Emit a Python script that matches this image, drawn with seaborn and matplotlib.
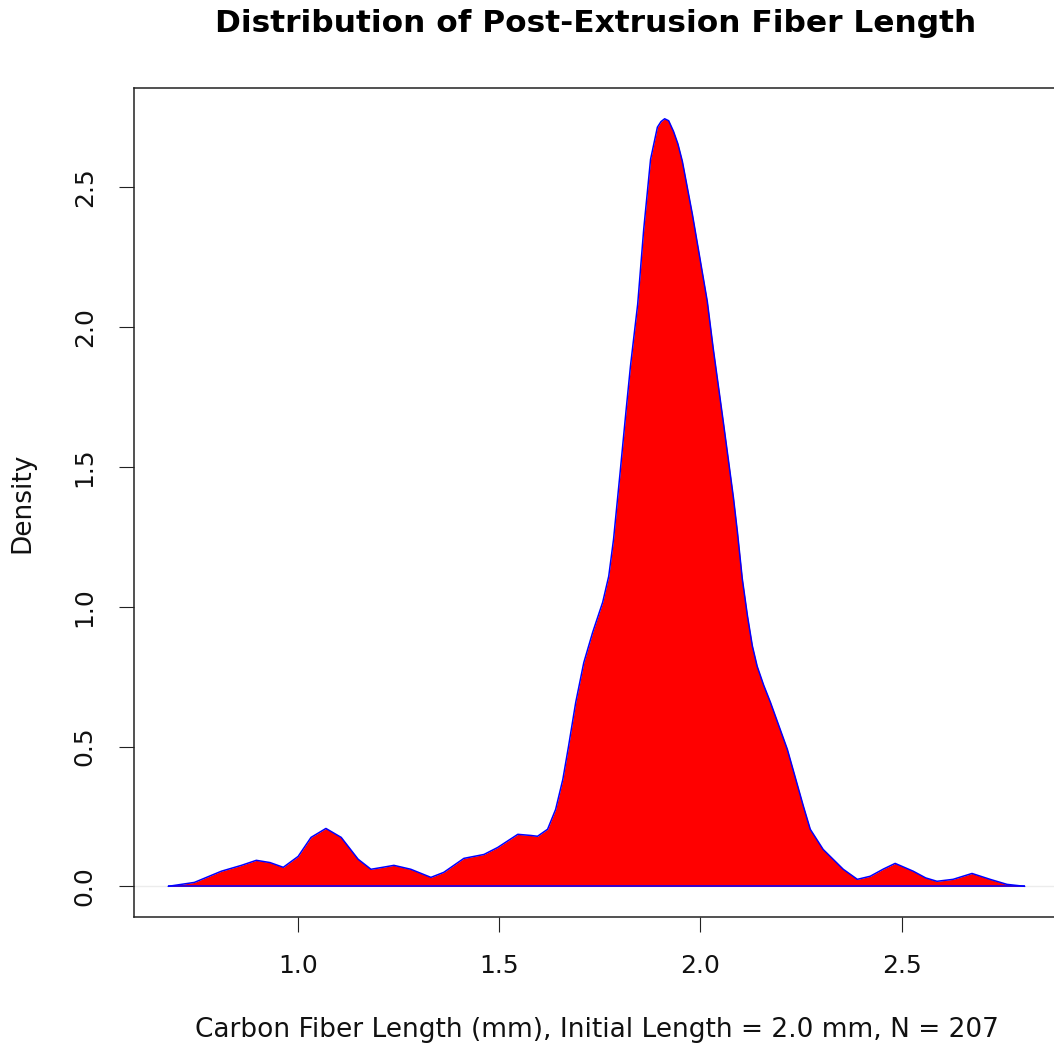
import numpy as np
import matplotlib
matplotlib.use("Agg")
import matplotlib.pyplot as plt
import seaborn as sns

# density curve (fiber length in mm, density)
length_mm = np.array([
    0.677, 0.742, 0.809, 0.859, 0.896, 0.930, 0.963, 1.000, 1.032, 1.069,
    1.107, 1.149, 1.181, 1.210, 1.238, 1.280, 1.330, 1.362, 1.412, 1.462,
    1.496, 1.546, 1.578, 1.595, 1.620, 1.640, 1.658, 1.672, 1.690, 1.710,
    1.732, 1.757, 1.772, 1.784, 1.801, 1.815, 1.826, 1.844, 1.859, 1.876,
    1.893, 1.902, 1.911, 1.921, 1.933, 1.944, 1.955, 1.980, 2.000, 2.017,
    2.032, 2.057, 2.082, 2.092, 2.104, 2.117, 2.129, 2.141, 2.157, 2.174,
    2.216, 2.256, 2.273, 2.305, 2.355, 2.390, 2.422, 2.455, 2.484, 2.529,
    2.560, 2.588, 2.628, 2.675, 2.720, 2.762, 2.806,
])
density = np.array([
    0.000, 0.014, 0.054, 0.075, 0.093, 0.085, 0.068, 0.107, 0.175, 0.207,
    0.175, 0.097, 0.061, 0.068, 0.075, 0.061, 0.032, 0.050, 0.100, 0.114,
    0.139, 0.186, 0.182, 0.179, 0.204, 0.275, 0.383, 0.500, 0.658, 0.800,
    0.908, 1.016, 1.109, 1.241, 1.490, 1.700, 1.860, 2.082, 2.350, 2.600,
    2.715, 2.735, 2.745, 2.738, 2.700, 2.655, 2.593, 2.403, 2.235, 2.092,
    1.921, 1.659, 1.390, 1.266, 1.100, 0.966, 0.860, 0.787, 0.720, 0.658,
    0.490, 0.286, 0.204, 0.132, 0.061, 0.025, 0.036, 0.062, 0.082, 0.054,
    0.030, 0.018, 0.025, 0.046, 0.025, 0.007, 0.000,
])
x_ticks = [1.0, 1.5, 2.0, 2.5]
y_ticks = [0.0, 0.5, 1.0, 1.5, 2.0, 2.5]

sns.set_style("white")
plt.rcParams["font.family"] = ["DejaVu Sans"]

fig = plt.figure(figsize=(10.54, 10.46), dpi=100)
ax = fig.add_axes([0.1271, 0.1233, 0.8776, 0.7925])

ax.axhline(0, color="#ececec", lw=1, zorder=0)
ax.fill_between(length_mm, density, color="red", lw=0, zorder=1)
sns.lineplot(x=length_mm, y=density, color="blue", lw=1.1, sort=False, ax=ax, zorder=2)
ax.hlines(0, length_mm.min(), length_mm.max(), color="blue", lw=1.1, zorder=2)

span = length_mm.max() - length_mm.min()
ax.set_xlim(length_mm.min() - 0.04 * span, length_mm.max() + 0.04 * span)
ax.set_ylim(-0.04 * density.max(), density.max() * 1.04)
ax.set_xticks(x_ticks)
ax.set_yticks(y_ticks)
ax.set_xticklabels([f"{v:.1f}" for v in x_ticks])
ax.set_yticklabels([f"{v:.1f}" for v in y_ticks], rotation=90, va="center")

for s in ax.spines.values():
    s.set_color("#222222")
    s.set_linewidth(1.1)
ax.tick_params(axis="both", direction="out", length=10.8, width=0.8,
               color="#222222", labelsize=18, labelcolor="#111111", pad=16,
               bottom=True, left=True)

ax.set_xlabel("Carbon Fiber Length (mm), Initial Length = 2.0 mm, N = 207",
              fontsize=19, color="#111111")
ax.set_ylabel("Density", fontsize=19, color="#111111")
ax.xaxis.set_label_coords(0.5, -0.120)
ax.yaxis.set_label_coords(-0.107, 0.5)

fig.text(0.5655, 0.978, "Distribution of Post-Extrusion Fiber Length",
         ha="center", va="center", fontsize=22.5, fontweight="bold", color="black")

fig.savefig("out.png", dpi=100)
